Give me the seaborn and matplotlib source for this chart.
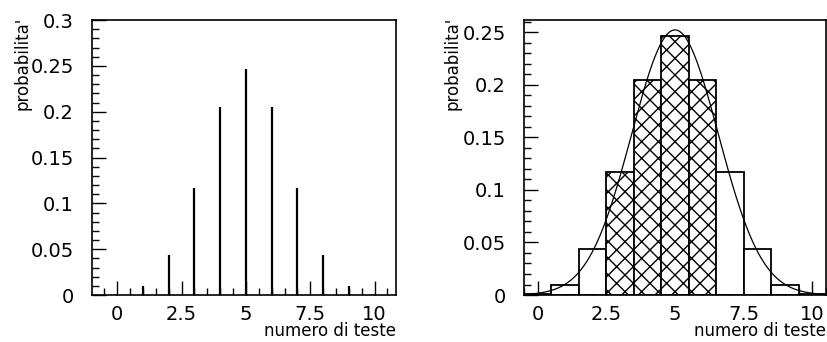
import numpy as np
import matplotlib
matplotlib.use("Agg")
import matplotlib.pyplot as plt
from matplotlib.ticker import MultipleLocator, FixedLocator, FuncFormatter
import seaborn as sns

# -----------------------------
# Data (binomial n=10, p=0.5)
# -----------------------------
teste = [0, 1, 2, 3, 4, 5, 6, 7, 8, 9, 10]
probabilita = [0.001, 0.0098, 0.0439, 0.1172, 0.2051, 0.2461,
               0.2051, 0.1172, 0.0439, 0.0098, 0.001]
hatched = [3, 4, 5, 6]

# gaussian curve on the right panel
gauss_peak = 0.2523
gauss_mean = 5.0
gauss_sigma = 1.58

x_ticks = [0, 2.5, 5, 7.5, 10]

# -----------------------------
# Style
# -----------------------------
sns.set_style("ticks")
plt.rcParams["font.family"] = ["DejaVu Sans"]
plt.rcParams["hatch.linewidth"] = 1.0
plt.rcParams["text.color"] = "black"
plt.rcParams["xtick.labelcolor"] = "black"
plt.rcParams["ytick.labelcolor"] = "black"

fig = plt.figure(figsize=(8.27, 3.42), dpi=100)
ax1 = fig.add_axes([0.1112, 0.1374, 0.3676, 0.804])
ax2 = fig.add_axes([0.6336, 0.1374, 0.3652, 0.804])

fmt = FuncFormatter(lambda v, pos: "%g" % round(v, 4))


def style_axes(ax, xlim, ylim, lab_x):
    ax.set_xlim(*xlim)
    ax.set_ylim(*ylim)
    ax.xaxis.set_major_locator(FixedLocator(x_ticks))
    ax.xaxis.set_minor_locator(MultipleLocator(0.5))
    ax.yaxis.set_major_locator(MultipleLocator(0.05))
    ax.yaxis.set_minor_locator(MultipleLocator(0.01))
    ax.xaxis.set_major_formatter(fmt)
    ax.yaxis.set_major_formatter(fmt)
    ax.tick_params(which="major", direction="in", length=10, width=1.0,
                   labelsize=14, top=False, right=False, color="black",
                   labelcolor="black")
    ax.tick_params(which="minor", direction="in", length=5, width=1.0,
                   top=False, right=False, color="black")
    ax.tick_params(axis="y", which="major", pad=13)
    ax.tick_params(axis="x", which="major", pad=7)
    for s in ax.spines.values():
        s.set_visible(True)
        s.set_linewidth(1.2)
        s.set_color("black")
    ax.set_xlabel("")
    ax.set_ylabel("")
    ax.text(lab_x, 0.673, "probabilita'", rotation=90, ha="center",
            va="bottom", fontsize=12, color="black", transform=ax.transAxes)
    ax.text(1.0, -0.150, "numero di teste", ha="right", va="baseline",
            fontsize=12, color="black", transform=ax.transAxes)


# -----------------------------
# Left: spikes
# -----------------------------
ax1.vlines(teste, 0, probabilita, color="black", linewidth=1.6)
style_axes(ax1, (-0.98, 10.83), (0, 0.3), -0.23)

# -----------------------------
# Right: histogram + gaussian
# -----------------------------
sns.histplot(x=teste, weights=probabilita, discrete=True, ax=ax2,
             color="white", edgecolor="black", linewidth=1.3, alpha=1)
for patch in ax2.patches:
    centre = patch.get_x() + patch.get_width() / 2
    if round(centre) in hatched:
        patch.set_hatch("xx")

xs = np.linspace(-0.5, 10.5, 400)
ys = gauss_peak * np.exp(-0.5 * ((xs - gauss_mean) / gauss_sigma) ** 2)
sns.lineplot(x=xs, y=ys, ax=ax2, color="black", linewidth=0.9)
style_axes(ax2, (-0.5, 10.5), (0, 0.2617), -0.238)

fig.savefig("out.png", dpi=100)
